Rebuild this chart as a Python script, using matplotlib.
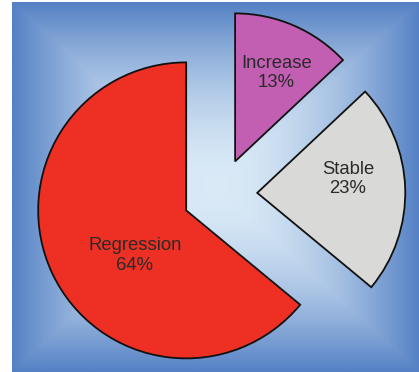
import numpy as np
import matplotlib.pyplot as plt

plt.rcParams['font.family'] = ['Liberation Sans', 'DejaVu Sans']

# Share of cases by outcome
categories = ["Regression", "Stable", "Increase"]
shares = [64, 23, 13]
colors = ["#ee3024", "#d9d9d7", "#c25fb3"]
explode = [0.26, 0.245, 0.24]

W, H = 419, 372
R = 148
fig = plt.figure(figsize=(W / 100, H / 100), dpi=100)
fig.patch.set_facecolor("white")
ax = fig.add_axes([0, 0, 1, 1])

# rectangular "from centre" gradient for the backdrop
x0, x1, y0, y1 = 12, W, 0, H - 2
nx, ny = 400, 360
u = np.linspace(-1, 1, nx)[None, :]
v = np.linspace(-1, 1, ny)[:, None]
t = np.maximum(np.abs(u), np.abs(v)) ** 1.8
light = np.array([218, 234, 247]) / 255
dark = np.array([84, 128, 196]) / 255
bg = light + (dark - light) * t[..., None]
ax.imshow(bg, extent=(x0, x1, y0, y1), origin="lower", zorder=0, interpolation="bilinear")

# pie's explode is in data units, so scale the fractions by the radius
wedges, _ = ax.pie(shares, colors=colors, explode=[e * R for e in explode],
                   startangle=90, counterclock=True, center=(221, 178), radius=R,
                   wedgeprops=dict(edgecolor="#111111", linewidth=1.3, zorder=2),
                   frame=True)

# label placement relative to each wedge's own centre
label_dist = [0.46, 0.62, 0.66]
label_shift = [16, 7, -1.5]
for w, name, pct, d, s in zip(wedges, categories, shares, label_dist, label_shift):
    ang = np.deg2rad((w.theta1 + w.theta2) / 2 + s)
    cx, cy = w.center
    ax.text(cx + d * w.r * np.cos(ang), cy + d * w.r * np.sin(ang),
            f"{name}\n{pct}%", ha="center", va="center", fontsize=13.3,
            color="#2a2a2a", linespacing=1.2, zorder=3)

ax.set_xlim(0, W)
ax.set_ylim(0, H)
ax.set_aspect("auto")
ax.axis("off")

fig.savefig("out.png", dpi=100)
